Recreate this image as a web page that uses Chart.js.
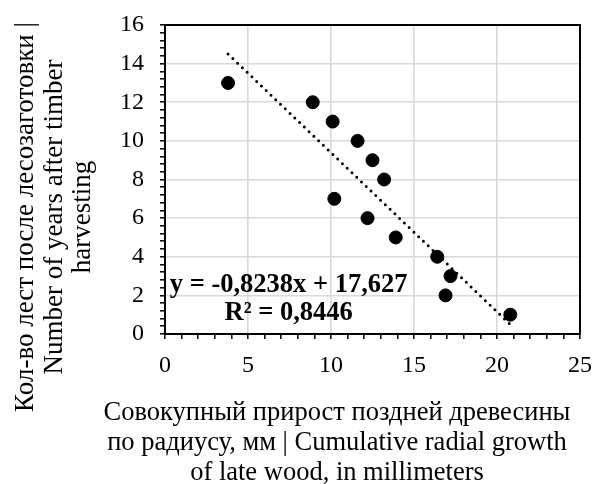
<!DOCTYPE html>
<html>
<head>
<meta charset="utf-8">
<script src="https://cdn.jsdelivr.net/npm/chart.js@4.4.1/dist/chart.umd.min.js"></script>
<style>
    html, body { margin: 0; padding: 0; background: #ffffff; }
    canvas { display: block; }
</style>
</head>
<body>
<canvas id="myChart" width="593" height="484"></canvas>
<script>
// scatter of years after harvesting vs cumulative late wood growth
// points, trend line from the printed equation

// x values: cumulative radial growth of late wood, mm
const growthMm = [3.8, 8.9, 10.1, 11.6, 12.5, 13.2, 10.2, 12.2, 13.9, 16.4, 17.2, 16.9, 20.8];
// y values: number of years after timber harvesting
const yearsAfter = [13, 12, 11, 10, 9, 8, 7, 6, 5, 4, 3, 2, 1];

// linear trend as printed on the chart
const trendSlope = -0.8238;
const trendIntercept = 17.627;
const trendLabel = ['y = -0,8238x + 17,627', 'R\u00b2 = 0,8446'];

// axis ranges and ticks (major / minor like excel)
const xMin = 0, xMax = 25, xMajor = 5, xMinor = 1;
const yMin = 0, yMax = 16, yMajor = 2, yMinor = 0.4;

const xTitle = [
    'Совокупный прирост поздней древесины',
    'по радиусу, мм | Cumulative radial growth',
    'of late wood, in millimeters'
];
const yTitle = [
    'Кол-во лест после лесозаготовки |',
    'Number of years after timber',
    'harvesting'
];

const FONT = "'Liberation Serif', 'Times New Roman', serif";

const ctx = document.getElementById('myChart').getContext('2d');

function isMajor(value, major) {
    const r = value / major;
    return Math.abs(r - Math.round(r)) < 1e-6;
}

// frame, axis titles and equation text
const extrasPlugin = {
    id: 'extras',
    afterDraw(chart) {
        const c = chart.ctx;
        const area = chart.chartArea;
        const xs = chart.scales.x;
        const ys = chart.scales.y;

        c.save();
        // frame round the plot area
        c.strokeStyle = '#000000';
        c.lineWidth = 2;
        c.strokeRect(area.left, area.top, area.right - area.left, area.bottom - area.top);

        // equation + R²
        c.fillStyle = '#000000';
        c.font = 'bold 26.5px ' + FONT;
        c.textAlign = 'center';
        c.textBaseline = 'middle';
        const ex = xs.getPixelForValue(7.45);
        const ey = ys.getPixelForValue(2.55);
        trendLabel.forEach((t, i) => c.fillText(t, ex, ey + i * 28));

        // x title
        c.font = '26.5px ' + FONT;
        c.textBaseline = 'alphabetic';
        xTitle.forEach((t, i) => c.fillText(t, 337, 420 + i * 30));

        // y title, rotated
        c.font = '27px ' + FONT;
        c.textBaseline = 'middle';
        c.translate(0, 217);
        c.rotate(-Math.PI / 2);
        yTitle.forEach((t, i) => c.fillText(t, 0, 26 + i * 28.5));
        c.restore();
    }
};

function renderChart() {
    const xLo = Math.min(...growthMm);
    const xHi = Math.max(...growthMm);
    const trendData = [
        { x: xLo, y: trendSlope * xLo + trendIntercept },
        { x: xHi, y: trendSlope * xHi + trendIntercept }
    ];

    const points = growthMm.map((x, i) => ({ x: x, y: yearsAfter[i] }));

    new Chart(ctx, {
        type: 'scatter',
        data: {
            datasets: [
                {
                    label: 'trend',
                    type: 'line',
                    data: trendData,
                    borderColor: '#000000',
                    borderWidth: 3,
                    borderDash: [0, 6.6],
                    borderCapStyle: 'round',
                    pointRadius: 0,
                    fill: false,
                    order: 0
                },
                {
                    label: 'data',
                    data: points,
                    backgroundColor: '#000000',
                    borderColor: '#000000',
                    pointRadius: 6.5,
                    order: 1
                }
            ]
        },
        options: {
            responsive: false,
            maintainAspectRatio: false,
            animation: false,
            layout: {
                padding: { left: 105, right: 13, top: 25, bottom: 110 }
            },
            plugins: {
                legend: { display: false },
                tooltip: { enabled: false },
                title: { display: false }
            },
            scales: {
                x: {
                    type: 'linear',
                    min: xMin,
                    max: xMax,
                    // fixed size, no extra room for the end labels
                    afterFit: (scale) => {
                        scale.height = 40;
                        scale.paddingLeft = 0;
                        scale.paddingRight = 0;
                    },
                    ticks: {
                        stepSize: xMinor,
                        autoSkip: false,
                        maxRotation: 0,
                        padding: 12,
                        color: '#000000',
                        font: { family: FONT, size: 24 },
                        callback: (value) => isMajor(value, xMajor) ? value : ''
                    },
                    grid: {
                        color: (c) => (c.tick && isMajor(c.tick.value, xMajor)) ? '#d9d9d9' : 'rgba(0,0,0,0)',
                        lineWidth: 1.6,
                        tickColor: '#000000',
                        tickLength: 5,
                        tickWidth: 1.5
                    },
                    border: { color: '#000000', width: 2 }
                },
                y: {
                    type: 'linear',
                    min: yMin,
                    max: yMax,
                    afterFit: (scale) => {
                        scale.width = 60;
                        scale.paddingTop = 0;
                        scale.paddingBottom = 0;
                    },
                    ticks: {
                        stepSize: yMinor,
                        autoSkip: false,
                        padding: 16,
                        color: '#000000',
                        font: { family: FONT, size: 24 },
                        callback: (value) => isMajor(value, yMajor) ? Math.round(value) : ''
                    },
                    grid: {
                        color: (c) => (c.tick && isMajor(c.tick.value, yMajor)) ? '#d9d9d9' : 'rgba(0,0,0,0)',
                        lineWidth: 1.6,
                        tickColor: '#000000',
                        tickLength: 5,
                        tickWidth: 1.5
                    },
                    border: { color: '#000000', width: 2 }
                }
            }
        },
        plugins: [extrasPlugin]
    });
}

renderChart();
</script>
</body>
</html>
